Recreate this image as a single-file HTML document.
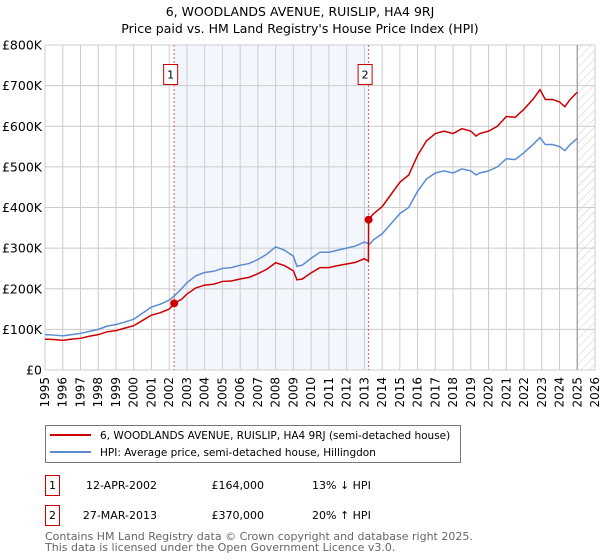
<!DOCTYPE html>
<html><head><meta charset="utf-8"><style>
body{margin:0;background:#fff;}
svg{display:block;font-family:"DejaVu Sans","Liberation Sans",sans-serif;}
</style></head><body>
<svg id="chart" width="600" height="560" viewBox="0 0 600 560">
<defs><pattern id="hatch" width="6" height="6" patternUnits="userSpaceOnUse" patternTransform="rotate(45)"><line x1="0" y1="0" x2="0" y2="6" stroke="#ccc" stroke-width="1"/></pattern></defs>
<text x="300" y="16" text-anchor="middle" font-size="12.5" fill="#000">6, WOODLANDS AVENUE, RUISLIP, HA4 9RJ</text>
<text x="300" y="33" text-anchor="middle" font-size="12.5" fill="#000">Price paid vs. HM Land Registry's House Price Index (HPI)</text>
<g id="plot"></g>
<g>
<rect x="45.5" y="425.5" width="415" height="37" fill="#fff" stroke="#777"/>
<line x1="50" y1="435" x2="91" y2="435" stroke="#cc0000" stroke-width="2"/>
<text x="100" y="439" font-size="10.5">6, WOODLANDS AVENUE, RUISLIP, HA4 9RJ (semi-detached house)</text>
<line x1="50" y1="452" x2="91" y2="452" stroke="#5b8bd0" stroke-width="2"/>
<text x="100" y="456" font-size="10.5">HPI: Average price, semi-detached house, Hillingdon</text>
</g>
<g font-size="11">
<rect x="45.5" y="475.5" width="14" height="20" fill="#fff" stroke="#cc0000"/>
<text x="52.5" y="489" text-anchor="middle">1</text>
<text x="157" y="489" text-anchor="end">12-APR-2002</text>
<text x="264" y="489" text-anchor="end">£164,000</text>
<text x="312" y="489">13% ↓ HPI</text>
<rect x="45.5" y="505.5" width="14" height="20" fill="#fff" stroke="#cc0000"/>
<text x="52.5" y="519" text-anchor="middle">2</text>
<text x="157" y="519" text-anchor="end">27-MAR-2013</text>
<text x="264" y="519" text-anchor="end">£370,000</text>
<text x="312" y="519">20% ↑ HPI</text>
</g>
<text x="45" y="540" font-size="11" fill="#666">Contains HM Land Registry data © Crown copyright and database right 2025.</text>
<text x="45" y="551" font-size="11" fill="#666">This data is licensed under the Open Government Licence v3.0.</text>
</svg>
<script>
const yTicks=[0,100,200,300,400,500,600,700,800];
const yTickLabels=["£0","£100K","£200K","£300K","£400K","£500K","£600K","£700K","£800K"];
const xTicks=[1995,1996,1997,1998,1999,2000,2001,2002,2003,2004,2005,2006,2007,2008,2009,2010,2011,2012,2013,2014,2015,2016,2017,2018,2019,2020,2021,2022,2023,2024,2025,2026];
const saleDates=[2002.28,2013.24];
const salePrices=[164,370];
const saleLabels=["1","2"];
const hpiDates=[1995,1995.5,1996,1996.5,1997,1997.5,1998,1998.5,1999,1999.5,2000,2000.5,2001,2001.5,2002,2002.3,2002.7,2003,2003.5,2004,2004.5,2005,2005.5,2006,2006.5,2007,2007.5,2008,2008.5,2009,2009.2,2009.5,2010,2010.5,2011,2011.5,2012,2012.5,2013,2013.3,2013.5,2014,2014.5,2015,2015.5,2016,2016.5,2017,2017.5,2018,2018.5,2019,2019.3,2019.5,2020,2020.5,2021,2021.5,2022,2022.5,2022.9,2023.2,2023.6,2024,2024.3,2024.6,2025];
const hpiValues=[87,86,84,87,90,95,100,108,112,118,125,140,155,162,172,183,200,215,232,240,243,250,252,258,262,272,285,303,295,280,255,258,275,290,290,295,300,305,315,310,320,335,360,385,400,440,470,485,490,485,495,490,480,485,490,500,520,518,535,555,572,555,555,550,540,555,570];
const priceDates=[1995,1995.5,1996,1996.5,1997,1997.5,1998,1998.5,1999,1999.5,2000,2000.5,2001,2001.5,2002,2002.28,2002.7,2003,2003.5,2004,2004.5,2005,2005.5,2006,2006.5,2007,2007.5,2008,2008.5,2009,2009.2,2009.5,2010,2010.5,2011,2011.5,2012,2012.5,2013,2013.23,2013.24,2013.5,2014,2014.5,2015,2015.5,2016,2016.5,2017,2017.5,2018,2018.5,2019,2019.3,2019.5,2020,2020.5,2021,2021.5,2022,2022.5,2022.9,2023.2,2023.6,2024,2024.3,2024.6,2025];
const priceValues=[76,75,73,76,78,83,87,94,97,103,109,122,135,141,150,164,174,187,202,209,211,218,219,224,228,237,248,264,257,244,222,224,239,252,252,257,261,265,274,268,370,384,402,432,462,480,528,564,582,588,582,594,588,576,582,588,600,624,622,642,666,690,666,666,660,648,666,684];

const X0=45,X1=595,Y0=370,Y1=45,xMin=1995,xMax=2026,yMax=800;
const xs=v=>X0+(v-xMin)/(xMax-xMin)*(X1-X0);
const ys=v=>Y0-v/yMax*(Y0-Y1);
const NS="http://www.w3.org/2000/svg";
const g=document.getElementById('plot');
function mk(t,a,p){const e=document.createElementNS(NS,t);for(const k in a)e.setAttribute(k,a[k]);(p||g).appendChild(e);return e;}

let e=mk('rect',{x:xs(saleDates[0]),y:Y1,width:xs(saleDates[1])-xs(saleDates[0]),height:Y0-Y1,fill:'#eef3fc',opacity:0.7});


e=mk('rect',{x:xs(2025),y:Y1,width:X1-xs(2025),height:Y0-Y1,fill:'url(#hatch)'});


xTicks.forEach(t=>{
  const l=mk('line',{x1:xs(t),x2:xs(t),y1:Y1,y2:Y0,stroke:'#ccc','stroke-width':1});
  
  
  const tx=mk('text',{x:0,y:0,transform:`translate(${xs(t)+4},${Y0+7}) rotate(-90)`,'text-anchor':'end','font-size':12});
  tx.textContent=t;
  
  
});
yTicks.forEach((t,i)=>{
  const l=mk('line',{x1:X0,x2:X1,y1:ys(t),y2:ys(t),stroke:'#ccc','stroke-width':1});
  
  
  const tx=mk('text',{x:X0-3,y:ys(t)+4.5,'text-anchor':'end','font-size':12.5});
  tx.textContent=yTickLabels[i];
  
  
});
e=mk('line',{x1:xs(2025),x2:xs(2025),y1:Y1,y2:Y0,stroke:'#999','stroke-width':1.2});


saleDates.forEach((d,i)=>{
  const l=mk('line',{x1:xs(d),x2:xs(d),y1:Y1,y2:Y0,stroke:'#e06060','stroke-width':1,'stroke-dasharray':'2,2'});
  
  
  const r=mk('rect',{x:xs(d)-10.5,y:64.5,width:14,height:20,fill:'#fff',stroke:'#cc0000'});
  
  
  const t=mk('text',{x:xs(d)-3.5,y:78.5,'text-anchor':'middle','font-size':11});
  t.textContent=saleLabels[i];
  
  
});
e=mk('polyline',{points:hpiDates.map((d,i)=>xs(d)+','+ys(hpiValues[i])).join(' '),fill:'none',stroke:'#5b8bd0','stroke-width':1.5});


e=mk('polyline',{points:priceDates.map((d,i)=>xs(d)+','+ys(priceValues[i])).join(' '),fill:'none',stroke:'#cc0000','stroke-width':1.5});


saleDates.forEach((d,i)=>{
  const c=mk('circle',{cx:xs(d),cy:ys(salePrices[i]),r:4,fill:'#cc0000'});
  
  
});
</script>
</body></html>
